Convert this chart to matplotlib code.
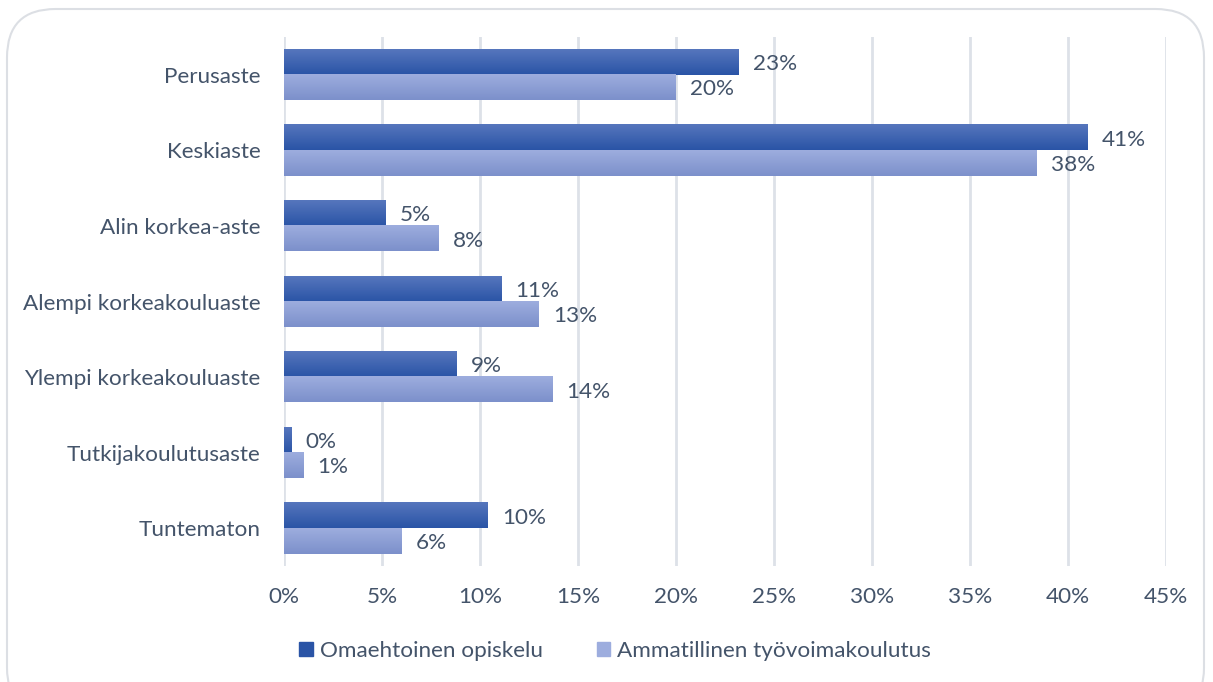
import numpy as np
import matplotlib.pyplot as plt
from matplotlib.patches import FancyBboxPatch
from matplotlib.colors import LinearSegmentedColormap

# DATA
categories = ["Perusaste", "Keskiaste", "Alin korkea-aste", "Alempi korkeakouluaste",
              "Ylempi korkeakouluaste", "Tutkijakoulutusaste", "Tuntematon"]
omaehtoinen = [23.2, 41.0, 5.2, 11.1, 8.8, 0.4, 10.4]
tyovoima = [20.0, 38.4, 7.9, 13.0, 13.7, 1.0, 6.0]
series_names = ["Omaehtoinen opiskelu", "Ammatillinen työvoimakoulutus"]
xticks = [0, 5, 10, 15, 20, 25, 30, 35, 40, 45]

text_color = "#44546a"
grid_color = "#dde1e8"
dark_top, dark_bot = "#5676bd", "#2a54a6"
light_top, light_bot = "#9dadde", "#7c90cb"
fs = 16.2

plt.rcParams["font.family"] = ["Lato", "DejaVu Sans"]

W, H = 1213, 682
fig = plt.figure(figsize=(W / 100, H / 100), dpi=100)

# rounded frame around the chart
frame = FancyBboxPatch((7 / W, 0.0 - 0.05), 1 - 16 / W, 1 - 9 / H + 0.05,
                       boxstyle="round,pad=0,rounding_size=0.04",
                       transform=fig.transFigure, facecolor="none",
                       edgecolor="#dcdfe4", linewidth=1.5, mutation_aspect=W / H,
                       zorder=-1)
fig.patches.append(frame)

ax = fig.add_axes([284 / W, 1 - 566 / H, (1166 - 284) / W, (566 - 37) / H])
ax.set_facecolor("none")

y = np.arange(len(categories))
h = 0.335

bars1 = ax.barh(y - h / 2, omaehtoinen, height=h, color=dark_bot, label=series_names[0], zorder=2)
bars2 = ax.barh(y + h / 2, tyovoima, height=h, color=light_bot, label=series_names[1], zorder=2)

# vertical gradients on bars
def gradient(bars, c_top, c_bot):
    cmap = LinearSegmentedColormap.from_list("g", [c_top, c_bot])
    grad = np.linspace(0, 1, 64).reshape(-1, 1)
    for b in bars:
        x0, yb = b.get_x(), b.get_y()
        x1, yt = x0 + b.get_width(), yb + b.get_height()
        ax.imshow(grad, cmap=cmap, aspect="auto", origin="upper",
                  extent=[x0, x1, yt, yb], zorder=3, interpolation="bicubic")

gradient(bars1, dark_top, dark_bot)
gradient(bars2, light_top, light_bot)

for bars, vals in [(bars1, omaehtoinen), (bars2, tyovoima)]:
    for b, v in zip(bars, vals):
        ax.annotate(f"{round(v):d}%", (b.get_width(), b.get_y() + b.get_height() / 2),
                    xytext=(14, -2), textcoords="offset pixels",
                    va="center", ha="left", fontsize=fs, color=text_color)

ax.set_xlim(0, 45)
ax.set_ylim(len(categories) - 0.5, -0.5)
ax.set_xticks(xticks)
ax.set_xticklabels([f"{t}%" for t in xticks])
ax.set_yticks(y)
ax.set_yticklabels(categories)
ax.tick_params(axis="both", length=0, labelsize=fs, labelcolor=text_color)
ax.tick_params(axis="x", pad=15)
ax.tick_params(axis="y", pad=17)
ax.grid(axis="x", color=grid_color, linewidth=2, zorder=0)
ax.set_axisbelow(True)
for s in ax.spines.values():
    s.set_visible(False)

leg = fig.legend(handles=[bars1, bars2], labels=series_names, loc="center",
                 bbox_to_anchor=(615 / W, 1 - 651 / H), ncol=2, frameon=False,
                 fontsize=fs, handlelength=0.6, handleheight=0.6,
                 handletextpad=0.3, columnspacing=2.4)
leg.legend_handles[0].set_color(dark_bot)
leg.legend_handles[1].set_color(light_top)
for t in leg.get_texts():
    t.set_color(text_color)

fig.savefig("out.png", dpi=100)
